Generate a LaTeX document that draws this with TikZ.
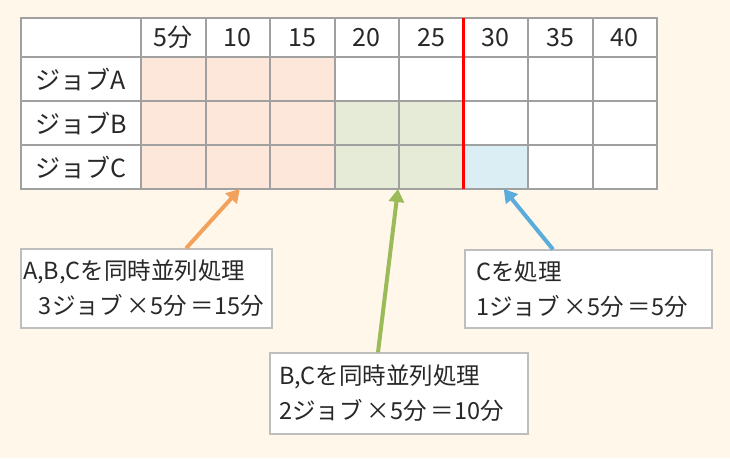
\documentclass[tikz,border=0pt]{standalone}
\usepackage{fontspec}
\setmainfont{Noto Sans CJK JP}
\usetikzlibrary{arrows.meta}
\definecolor{paper}{RGB}{255,247,233}
\definecolor{gridG}{RGB}{160,160,160}
\definecolor{boxG}{RGB}{190,190,190}
\definecolor{ink}{RGB}{40,40,40}
\definecolor{peach}{RGB}{252,231,218}
\definecolor{sage}{RGB}{230,235,216}
\definecolor{ice}{RGB}{218,238,243}
\definecolor{arrO}{RGB}{242,162,92}
\definecolor{arrG}{RGB}{155,187,89}
\definecolor{arrB}{RGB}{90,172,220}
\newcommand{\gap}{\hspace{4pt}}

\begin{document}
\begin{tikzpicture}[x=1pt, y=-1pt, text=ink, font=\fontsize{25}{30}\selectfont,
  >={Triangle[length=13pt,width=15pt]},
  cell/.style={rectangle, draw=gridG, line width=2pt, fill=white, minimum width=64.5pt,
               minimum height=44pt, inner sep=0pt, outer sep=0pt},
  note/.style={rectangle, draw=boxG, line width=1.2pt, fill=white, align=left, inner ysep=0pt,
               font=\fontsize{23.5}{35}\selectfont},
  pointer/.style={->, line width=4pt}]
  \useasboundingbox (0,0) rectangle (730,458);
  \fill[paper] (0,0) rectangle (730,458);

  % time header
  \node[cell, minimum width=120pt, minimum height=39pt] (h0) at (81,37.5) {};
  \foreach \t [count=\i] in {5分,10,15,20,25,30,35,40}
    \node[cell, minimum height=39pt] (h\i) at ({141+64.5*(\i-0.5)},37.5) {\t};

  % job rows
  \foreach \r/\y/\cols in {A/79/{peach,peach,peach,white,white,white,white,white},
                           B/123/{peach,peach,peach,sage,sage,white,white,white},
                           C/167/{peach,peach,peach,sage,sage,ice,white,white}} {
    \node[cell, minimum width=120pt] (r\r) at (81,\y) {ジョブ\r};
    \foreach \f [count=\i] in \cols
      \node[cell, fill=\f] (c\r\i) at ({141+64.5*(\i-0.5)},\y) {};
  }

  % 30 min mark
  \draw[red, line width=2.5pt] (h6.north west) -- (cC6.south west);

  % notes
  \node[note, minimum width=251pt, minimum height=79pt, text width=247pt, inner xsep=2pt]
    (nABC) at (146.5,288.5) {A,B,Cを同時並列処理\\\hspace*{16pt}3ジョブ\gap×5分\gap＝15分};
  \node[note, minimum width=258pt, minimum height=81pt, text width=240pt, inner xsep=9pt]
    (nBC) at (399,393.5) {B,Cを同時並列処理\\2ジョブ\gap×5分\gap＝10分};
  \node[note, minimum width=247pt, minimum height=78pt, text width=225pt, inner xsep=11pt]
    (nC) at (588.5,289) {Cを処理\\1ジョブ\gap×5分\gap＝5分};

  \draw[pointer, arrO] ([xshift=39.5pt]nABC.north) -- ([xshift=2pt]cC2.south);
  \draw[pointer, arrG] ([xshift=-21pt]nBC.north) -- ([xshift=-1pt]cC4.south east);
  \draw[pointer, arrB] ([xshift=-35.5pt]nC.north) -- ([xshift=8pt]cC6.south);
\end{tikzpicture}
\end{document}
